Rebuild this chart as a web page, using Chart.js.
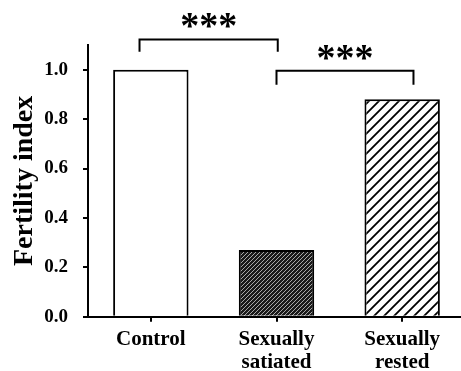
<!DOCTYPE html>
<html>
<head>
<meta charset="utf-8">
<script src="https://cdn.jsdelivr.net/npm/chart.js@4/dist/chart.umd.min.js"></script>
<style>
  html, body { margin: 0; padding: 0; background: #fff; overflow: hidden; }
  #wrap { width: 461px; height: 371px; overflow: hidden; }
  canvas { display: block; }
</style>
</head>
<body>
<div id="wrap"><canvas id="c" width="465" height="371"></canvas></div>
<script>
// Fertility index per group
const categories = [['Control'], ['Sexually', 'satiated'], ['Sexually', 'rested']];
const fertilityIndex = [1.0, 0.27, 0.88];
const yTicks = [0.0, 0.2, 0.4, 0.6, 0.8, 1.0];

// Significance brackets: category span, bracket height, leg foot, star height
const sigFrom = [-0.09, 1.0];
const sigTo = [1.01, 2.09];
const sigTop = [1.122, 0.996];
const sigFoot = [1.073, 0.939];
const sigStarY = [1.20, 1.07];
const sigText = ['***', '***'];

const SERIF = "'Liberation Serif', 'Times New Roman', serif";

function hatchPattern(size, bg, fg, lw) {
  const t = document.createElement('canvas');
  t.width = size; t.height = size;
  const g = t.getContext('2d');
  g.fillStyle = bg;
  g.fillRect(0, 0, size, size);
  g.strokeStyle = fg;
  g.lineWidth = lw;
  g.beginPath();
  g.moveTo(0, size); g.lineTo(size, 0);
  g.moveTo(-size / 2, size / 2); g.lineTo(size / 2, -size / 2);
  g.moveTo(size / 2, size * 1.5); g.lineTo(size * 1.5, size / 2);
  g.stroke();
  return document.getElementById('c').getContext('2d').createPattern(t, 'repeat');
}

const fills = [
  '#ffffff',
  hatchPattern(4, '#1a1a1a', '#a8a8a8', 1),
  hatchPattern(10, '#ffffff', '#000000', 1.8)
];

const bracketPlugin = {
  id: 'sigBrackets',
  afterDraw(chart) {
    const { ctx } = chart;
    const xs = chart.scales.x, ys = chart.scales.y;
    ctx.save();
    ctx.strokeStyle = '#000';
    ctx.lineWidth = 2;
    ctx.lineCap = 'butt';
    ctx.fillStyle = '#000';
    ctx.font = 'bold 38px ' + SERIF;
    ctx.textAlign = 'center';
    ctx.textBaseline = 'middle';
    for (let i = 0; i < sigFrom.length; i++) {
      const x0 = xs.getPixelForValue(sigFrom[i]);
      const x1 = xs.getPixelForValue(sigTo[i]);
      const yt = ys.getPixelForValue(sigTop[i]);
      const yf = ys.getPixelForValue(sigFoot[i]);
      ctx.beginPath();
      ctx.moveTo(x0, yf); ctx.lineTo(x0, yt); ctx.lineTo(x1, yt); ctx.lineTo(x1, yf);
      ctx.stroke();
      const ys2 = ys.getPixelForValue(sigStarY[i]);
      ctx.fillText(sigText[i], (x0 + x1) / 2, ys2 + 8);
    }
    ctx.restore();
  }
};

new Chart(document.getElementById('c'), {
  type: 'bar',
  data: {
    labels: categories,
    datasets: [{
      data: fertilityIndex,
      backgroundColor: fills,
      borderColor: '#000',
      borderWidth: 2,
      borderSkipped: 'start',
      categoryPercentage: 1.0,
      barPercentage: 0.6
    }]
  },
  options: {
    responsive: false,
    devicePixelRatio: 1,
    animation: false,
    layout: { padding: { top: 45, left: 0, right: 0, bottom: 0 } },
    plugins: { legend: { display: false }, tooltip: { enabled: false } },
    scales: {
      x: {
        offset: true,
        grid: { offset: false, drawOnChartArea: false, drawTicks: true, tickLength: 5, color: '#000', lineWidth: 2 },
        border: { display: true, color: '#000', width: 2 },
        ticks: {
          color: '#000',
          padding: 7,
          maxRotation: 0,
          autoSkip: false,
          font: { family: SERIF, size: 21, weight: 'bold', lineHeight: 1.08 }
        },
        afterFit(s) { s.height = 54.3; }
      },
      y: {
        min: 0,
        max: 1.1,
        afterBuildTicks(s) { s.ticks = yTicks.map(v => ({ value: v })); },
        grid: { drawOnChartArea: false, drawTicks: true, tickLength: 5, color: '#000', lineWidth: 2 },
        border: { display: true, color: '#000', width: 2 },
        ticks: {
          color: '#000',
          padding: 15,
          font: { family: SERIF, size: 19, weight: 'bold' },
          callback: v => Number(v).toFixed(1)
        },
        title: {
          display: true,
          text: 'Fertility index',
          color: '#000',
          padding: { top: 11, bottom: 0 },
          font: { family: SERIF, size: 28, weight: 'bold', lineHeight: 1 }
        },
        afterFit(s) { s.width = 88; }
      }
    }
  },
  plugins: [bracketPlugin]
});
</script>
</body>
</html>
